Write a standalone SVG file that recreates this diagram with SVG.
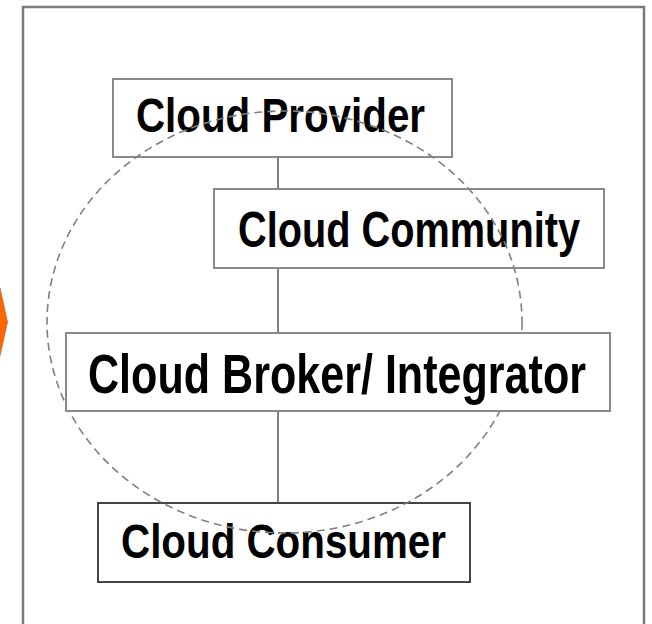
<svg xmlns="http://www.w3.org/2000/svg" width="652" height="624" viewBox="0 0 652 624">
  <style>
    .box { fill: #ffffff; stroke: #8a8a8a; stroke-width: 2; }
    .box.dark { stroke: #444444; }
    .label { font-family: "Liberation Sans", Arial, sans-serif; font-weight: bold; fill: #000000; }
    .link { stroke: #808080; stroke-width: 2; fill: none; }
    .ring { fill: none; stroke: #808080; stroke-width: 1.6; stroke-dasharray: 8 5; }
  </style>

  <rect width="652" height="624" fill="#ffffff"/>

  <!-- orange pointer at the left edge -->
  <polygon points="-10,288 0,288 7.5,322 0,356 -10,356" fill="#ff6600" stroke="#c0703a" stroke-width="0.8"/>

  <!-- outer frame -->
  <path d="M23,632 V7 H644 V632" fill="none" stroke="#7a7a7a" stroke-width="2.5"/>

  <g id="connectors">
    <line class="link" x1="278" y1="157" x2="278" y2="503"/>
  </g>

  <g id="cloud-provider">
    <rect class="box" x="113" y="79" width="339" height="78"/>
    <text class="label" x="136" y="132" font-size="48" textLength="289" lengthAdjust="spacingAndGlyphs">Cloud Provider</text>
  </g>

  <g id="cloud-community">
    <rect class="box" x="214" y="189" width="390" height="79"/>
    <text class="label" x="238" y="247" font-size="50" textLength="342" lengthAdjust="spacingAndGlyphs">Cloud Community</text>
  </g>

  <g id="cloud-consumer">
    <rect class="box dark" x="98" y="503" width="372" height="79"/>
    <text class="label" x="121" y="558" font-size="49" textLength="325" lengthAdjust="spacingAndGlyphs">Cloud Consumer</text>
  </g>

  <!-- dashed boundary ring -->
  <g id="ring">
    <ellipse class="ring" cx="284.5" cy="322" rx="237.5" ry="211"/>
  </g>

  <g id="cloud-broker">
    <rect class="box" x="66" y="333" width="544" height="78"/>
    <text class="label" x="88" y="393" font-size="55" textLength="498" lengthAdjust="spacingAndGlyphs">Cloud Broker/ Integrator</text>
  </g>
</svg>
